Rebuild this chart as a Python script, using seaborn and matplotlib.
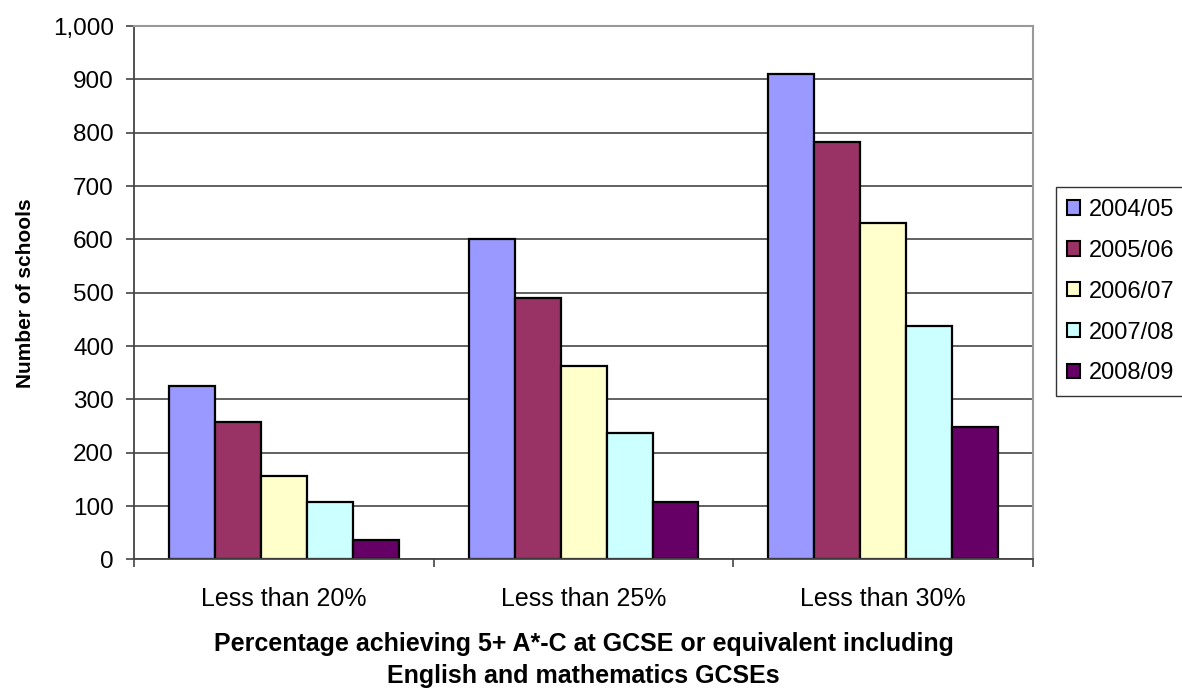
import matplotlib
matplotlib.use("Agg")
import matplotlib.pyplot as plt
import matplotlib.ticker as mticker
import seaborn as sns
import pandas as pd

categories = ["Less than 20%", "Less than 25%", "Less than 30%"]
years = ["2004/05", "2005/06", "2006/07", "2007/08", "2008/09"]
v2004_05 = [326, 600, 911]
v2005_06 = [258, 491, 783]
v2006_07 = [157, 363, 630]
v2007_08 = [108, 237, 438]
v2008_09 = [36, 108, 248]
colors = ["#9999FF", "#993366", "#FFFFCC", "#CCFFFF", "#660066"]
yticks = list(range(0, 1001, 100))

series = [v2004_05, v2005_06, v2006_07, v2007_08, v2008_09]
rows = []
for y, vals in zip(years, series):
    for c, v in zip(categories, vals):
        rows.append({"category": c, "year": y, "value": v})
df = pd.DataFrame(rows)

sns.set_theme(style="white")
plt.rcParams["font.family"] = ["Liberation Sans", "DejaVu Sans"]
plt.rcParams["text.color"] = "black"
plt.rcParams["axes.labelcolor"] = "black"
plt.rcParams["xtick.color"] = "black"
plt.rcParams["ytick.color"] = "black"

fig = plt.figure(figsize=(11.82, 6.88), dpi=100)
ax = fig.add_axes([0.1134, 0.187, 0.7606, 0.775])

sns.barplot(data=df, x="category", y="value", hue="year", order=categories,
            hue_order=years, palette=colors, edgecolor="black", linewidth=1.6,
            width=0.767, gap=0, saturation=1, ax=ax, legend=True)

ax.set_xlim(-0.5, 2.5)
ax.set_ylim(0, 1000)
ax.set_yticks(yticks)
ax.yaxis.set_major_formatter(mticker.FuncFormatter(lambda v, p: f"{int(v):,}"))
ax.grid(axis="y", color="#555555", linewidth=1.3)
ax.set_axisbelow(True)

for s in ["top", "right"]:
    ax.spines[s].set_color("#999999")
    ax.spines[s].set_linewidth(1.5)
for s in ["left", "bottom"]:
    ax.spines[s].set_color("#444444")
    ax.spines[s].set_linewidth(1.3)

ax.tick_params(axis="y", which="major", direction="out", length=6, width=1.2,
               color="#444444", left=True, labelsize=17.5, pad=8.5, labelcolor="black")
ax.tick_params(axis="x", which="major", length=0, labelsize=18, pad=20, labelcolor="black")
ax.set_xticks([-0.5, 0.5, 1.5, 2.5], minor=True)
ax.tick_params(axis="x", which="minor", direction="out", length=6, width=1.2,
               color="#444444", bottom=True)

ax.set_ylabel("Number of schools", fontsize=15, fontweight="bold")
ax.yaxis.set_label_coords(-0.11, 0.5)
ax.set_xlabel("Percentage achieving 5+ A*-C at GCSE or equivalent including\nEnglish and mathematics GCSEs",
              fontsize=18, fontweight="bold", linespacing=1.38)
ax.xaxis.set_label_coords(0.5, -0.137)

handles, labels = ax.get_legend_handles_labels()
ax.get_legend().remove()
leg = fig.legend(handles, labels, loc="upper left", bbox_to_anchor=(0.893, 0.728),
                 frameon=True, fancybox=False, edgecolor="black", fontsize=17,
                 handlelength=0.55, handleheight=0.55, handletextpad=0.35,
                 labelspacing=0.8, borderpad=0.5, borderaxespad=0)
leg.get_frame().set_linewidth(1.0)
for h in leg.legend_handles:
    h.set_edgecolor("black")
    h.set_linewidth(1.5)

fig.savefig("out.png", dpi=100)
